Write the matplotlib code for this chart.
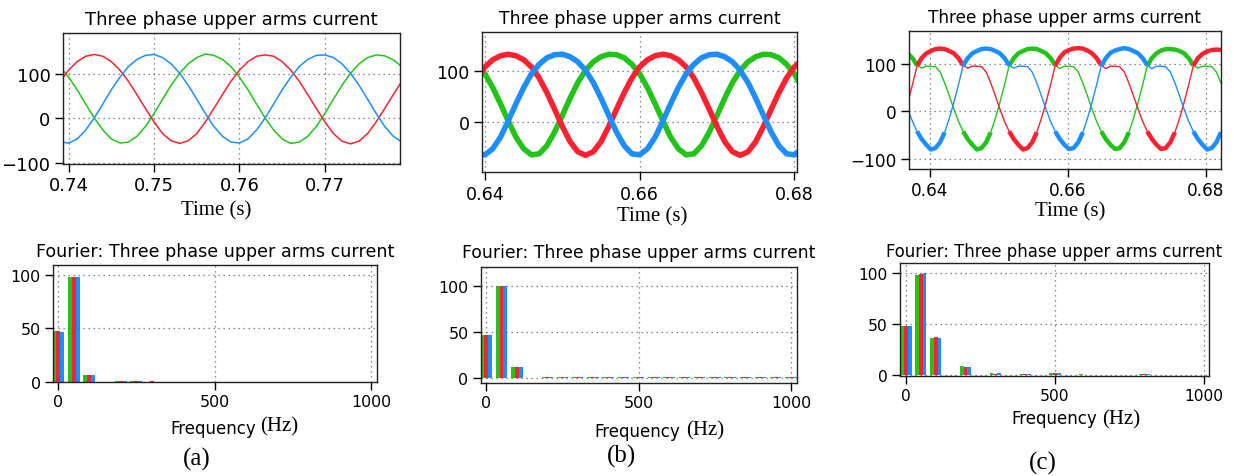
#!/usr/bin/env python3
"""Three phase upper arm currents and their spectra, three cases side by side."""
import numpy as np
import matplotlib
matplotlib.use("Agg")
import matplotlib.pyplot as plt

GREEN = "#22c41a"
RED = "#ff2030"
BLUE = "#1e8eff"
SERIF = "Liberation Serif"

# ---- (a) time domain, 1 ms samples from 0.739 s ----
t_a = np.round(0.739 + 0.001 * np.arange(41), 4)
red_a = [83, 108, 127, 139, 143, 139, 127, 108, 83, 53, 22, -8, -34, -50, -56, -50, -34, -8, 22, 53,
         83, 108, 127, 139, 142, 139, 127, 108, 83, 53, 22, -8, -34, -51, -57, -51, -34, -8, 22, 53,
         83]
blue_a = [-53, -55, -46, -26, 1, 32, 64, 92, 116, 132, 141, 143, 136, 122, 101, 74, 43, 11, -18, -40,
          -53, -55, -46, -26, 1, 32, 64, 92, 116, 132, 141, 142, 136, 122, 101, 74, 43, 11, -18, -40,
          -53]
green_a = [116, 92, 64, 32, 1, -26, -46, -55, -53, -40, -18, 11, 43, 74, 101, 122, 136, 144, 141, 132,
           116, 92, 64, 32, 1, -26, -46, -56, -53, -40, -18, 11, 43, 74, 101, 122, 136, 142, 140, 131,
           116]

# ---- (b) time domain, 1 ms samples from 0.639 s ----
t_b = np.round(0.639 + 0.001 * np.arange(43), 4)
red_b = [87, 109, 123, 131, 134, 131, 123, 109, 87, 58, 25, -9, -39, -59, -66, -59, -39, -9, 25, 58,
         87, 109, 123, 131, 134, 131, 123, 109, 87, 58, 25, -9, -39, -59, -66, -59, -39, -9, 25, 58,
         87, 109, 123]
blue_b = [-63, -65, -53, -30, 2, 36, 68, 95, 114, 127, 133, 134, 129, 119, 102, 78, 47, 13, -20, -47,
          -63, -65, -53, -30, 2, 36, 68, 95, 114, 127, 133, 134, 129, 119, 102, 78, 47, 13, -20, -47,
          -63, -65, -53]
green_b = [114, 95, 68, 36, 2, -30, -53, -65, -63, -47, -20, 13, 47, 78, 102, 119, 129, 134, 133, 127,
           114, 95, 68, 36, 2, -30, -53, -65, -63, -47, -20, 13, 47, 78, 102, 119, 129, 134, 133, 127,
           114, 95, 68]

# ---- (c) time domain, 0.02/30 s samples from 0.63683 s ----
t_c = 0.63683 + (0.02 / 30) * np.arange(70)
red_c = [19, 56, 96, 112, 122, 127, 131, 132, 131, 127, 122, 112, 97, 91, 95, 95, 94, 83, 60, 33,
         5, -21, -42, -58, -70, -80, -77, -65, -44, -15,
         19, 56, 96, 113, 124, 129, 132, 133, 132, 128, 122, 112, 97, 90, 95, 95, 94, 83, 60, 33,
         5, -21, -42, -58, -70, -79, -77, -65, -44, -15,
         19, 56, 96, 112, 121, 126, 129, 130, 129, 126]
blue_c = [5, -21, -42, -58, -70, -80, -77, -65, -44, -15, 19, 56, 96, 112, 122, 127, 131, 132, 131, 127,
          122, 112, 97, 91, 95, 95, 94, 83, 60, 33,
          5, -21, -42, -58, -70, -79, -77, -65, -44, -15, 19, 56, 96, 112, 123, 128, 131, 133, 131, 127,
          122, 112, 97, 90, 95, 95, 94, 83, 60, 33,
          5, -21, -42, -58, -70, -80, -77, -65, -44, -15]
green_c = [122, 112, 97, 91, 95, 95, 94, 83, 60, 33, 5, -21, -42, -58, -70, -80, -77, -65, -44, -15,
           19, 56, 96, 112, 122, 127, 131, 132, 131, 127,
           122, 112, 97, 90, 95, 95, 94, 83, 60, 33, 5, -21, -42, -58, -70, -79, -77, -65, -44, -15,
           19, 56, 96, 112, 122, 128, 131, 131, 130, 127,
           122, 112, 97, 91, 95, 95, 94, 83, 60, 33]

# ---- spectra ----
freqs = [0, 50, 100, 150, 200, 250, 300, 350, 400, 450, 500,
         550, 600, 650, 700, 750, 800, 850, 900, 950, 1000]
fa_green = [47.2, 97.8, 6.9, 0.1, 1.1, 0.5, 0.4, 0.1, 0.3, 0.1, 0.1, 0, 0, 0, 0, 0, 0, 0, 0, 0, 0]
fa_red = [47.2, 97.8, 6.9, 0.1, 1.1, 0.5, 0.5, 0.1, 0.4, 0.1, 0.1, 0, 0, 0, 0, 0, 0, 0, 0, 0, 0]
fa_blue = [47.0, 97.8, 7.0, 0.1, 1.0, 0.5, 0.4, 0.1, 0.3, 0.1, 0.1, 0, 0, 0, 0, 0, 0, 0, 0, 0, 0]
fb_green = [46.5, 100, 12.2, 0.5, 1.3, 0.6, 0.6, 0.6, 0.6, 0.6, 0.6,
            0.6, 0.6, 0.6, 0.6, 0.6, 0.6, 0.6, 0.6, 0.6, 0.6]
fb_red = [46.5, 100, 12.4, 0.5, 1.5, 0.6, 0.6, 0.6, 0.6, 0.6, 0.6,
          0.6, 0.6, 0.6, 0.6, 0.6, 0.6, 0.6, 0.6, 0.6, 0.6]
fb_blue = [46.5, 100, 12.3, 0.5, 1.3, 0.6, 0.6, 0.6, 0.6, 0.6, 0.6,
           0.6, 0.6, 0.6, 0.6, 0.6, 0.6, 0.6, 0.6, 0.6, 0.6]
fc_green = [48.2, 98.7, 36.4, 0.2, 9.0, 0.2, 2.0, 0.1, 1.2, 0.1, 2.0,
            0.1, 0.8, 0.1, 0.2, 0.1, 0.8, 0.1, 0.5, 0.1, 0.2]
fc_red = [48.2, 99.0, 37.4, 0.2, 8.6, 0.2, 1.3, 0.1, 1.0, 0.1, 1.8,
          0.1, 0.7, 0.1, 0.2, 0.1, 0.8, 0.1, 0.4, 0.1, 0.2]
fc_blue = [48.0, 100.0, 36.8, 0.2, 8.4, 0.2, 1.8, 0.1, 1.1, 0.1, 2.0,
           0.1, 0.7, 0.1, 0.2, 0.1, 0.8, 0.1, 0.5, 0.1, 0.2]

W, H = 1234, 477
fig = plt.figure(figsize=(W / 100, H / 100), dpi=100)


def px_axes(x0, y0, x1, y1):
    return fig.add_axes([x0 / W, 1 - y1 / H, (x1 - x0) / W, (y1 - y0) / H])


def style(ax, xticks, yticks, fs):
    ax.set_xticks(xticks)
    ax.set_yticks(yticks)
    ax.tick_params(direction="out", length=6, width=1, pad=3, labelsize=fs,
                   top=False, right=False, colors="black")
    ax.grid(True, color="#666666", linestyle=(0, (1, 3)), linewidth=0.9)
    for side in ax.spines.values():
        side.set_color("#222222")
        side.set_linewidth(1.0)


def figtext_px(x, y, s, **kw):
    fig.text(x / W, 1 - y / H, s, **kw)


# top row: waveforms
ax = px_axes(63, 34, 400, 165)
for v, c in ((green_a, GREEN), (red_a, RED), (blue_a, BLUE)):
    ax.plot(t_a, v, color=c, lw=1.1)
ax.set_xlim(0.73934, 0.77879)
ax.set_ylim(-102, 191)
style(ax, [0.74, 0.75, 0.76, 0.77], [-100, 0, 100], 13)
ax.set_xticklabels(["0.74", "0.75", "0.76", "0.77"])
ax.set_title("Three phase upper arms current", fontsize=13.1, pad=6.5)

ax = px_axes(482, 33, 797, 173)
for v, c in ((green_b, GREEN), (red_b, RED), (blue_b, BLUE)):
    ax.plot(t_b, v, color=c, lw=4, solid_capstyle="butt")
ax.set_xlim(0.63961, 0.68034)
ax.set_ylim(-99, 178)
style(ax, [0.64, 0.66, 0.68], [0, 100], 12.6)
ax.set_xticklabels(["0.64", "0.66", "0.68"])
ax.set_title("Three phase upper arms current", fontsize=12.4, pad=6.5)

ax = px_axes(909, 32, 1221, 170)
for v, c in ((green_c, GREEN), (red_c, RED), (blue_c, BLUE)):
    arr = np.array(v, dtype=float)
    ax.plot(t_c, arr, color=c, lw=1.0)
    # ripple band: thick near the humps and the troughs
    thick = np.where((arr >= 96) | (arr <= -42), arr, np.nan)
    ax.plot(t_c, thick, color=c, lw=3.2, solid_capstyle="butt", solid_joinstyle="round")
ax.set_xlim(0.63700, 0.68217)
ax.set_ylim(-121, 169)
style(ax, [0.64, 0.66, 0.68], [-100, 0, 100], 12.2)
ax.set_xticklabels(["0.64", "0.66", "0.68"])
ax.set_title("Three phase upper arms current", fontsize=12.2, pad=6.3)

# bottom row: spectra
bw = 12.5
fx = np.array(freqs, dtype=float)


def spectrum(ax, g, r, b):
    ax.bar(fx - bw, g, width=bw, color=GREEN, linewidth=0)
    ax.bar(fx, r, width=bw, color=RED, linewidth=0)
    ax.bar(fx + bw, b, width=bw, color=BLUE, linewidth=0)


ax = px_axes(53, 266, 377, 383)
spectrum(ax, fa_green, fa_red, fa_blue)
ax.set_xlim(-16, 1018)
ax.set_ylim(0, 109.3)
style(ax, [0, 500, 1000], [0, 50, 100], 11.4)
ax.set_title("Fourier: Three phase upper arms current", fontsize=12.6, pad=6.3)

ax = px_axes(481, 268, 797, 384)
spectrum(ax, fb_green, fb_red, fb_blue)
ax.set_xlim(-17.5, 1019.7)
ax.set_ylim(-5.4, 120.6)
style(ax, [0, 500, 1000], [0, 50, 100], 11.4)
ax.set_title("Fourier: Three phase upper arms current", fontsize=12.45, pad=7)

ax = px_axes(900, 264, 1209, 377)
spectrum(ax, fc_green, fc_red, fc_blue)
ax.set_xlim(-20, 1017)
ax.set_ylim(-0.7, 110.2)
style(ax, [0, 500, 1000], [0, 50, 100], 11.2)
ax.set_title("Fourier: Three phase upper arms current", fontsize=11.9, pad=5.3)

# axis labels and captions
for xc, yb in ((216, 215), (652, 221.7), (1070, 216.7)):
    figtext_px(xc, yb, "Time (s)", family=SERIF, fontsize=15, ha="center", va="baseline")

for xf, yf, xh, yh in ((170, 434, 260, 431.7), (594, 436.7, 686, 435), (1011, 424.3, 1102, 424.3)):
    figtext_px(xf, yf, "Frequency", fontsize=12, ha="left", va="baseline")
    figtext_px(xh, yh, "(Hz)", family=SERIF, fontsize=15, ha="left", va="baseline")

for xc, yb, s in ((197, 466, "(a)"), (622, 463, "(b)"), (1043, 470, "(c)")):
    figtext_px(xc, yb, s, family=SERIF, fontsize=18, ha="center", va="baseline")

fig.savefig("out.png", dpi=100)
